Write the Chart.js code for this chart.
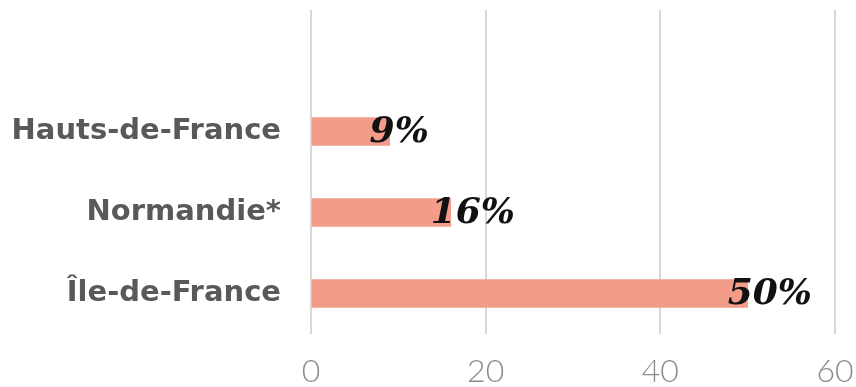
<!DOCTYPE html>
<html>
<head>
<meta charset="utf-8">
<script src="https://cdn.jsdelivr.net/npm/chart.js@4/dist/chart.umd.min.js"></script>
<style>
  html, body { margin: 0; padding: 0; background: #fff; }
  #wrap { width: 856px; height: 387px; }
</style>
</head>
<body>
<div id="wrap"><canvas id="chart"></canvas></div>
<script>
// Data (first slot is left empty, as in the original layout)
const regions = ['', 'Hauts-de-France', 'Normandie*', 'Île-de-France'];
const shares = [null, 9, 16, 50];
const xTicks = [0, 20, 40, 60];

const BAR_COLOR = '#f39c8a';

// value labels drawn next to the bar ends
const valueLabelPlugin = {
  id: 'valueLabels',
  afterDatasetsDraw(chart) {
    const { ctx } = chart;
    const meta = chart.getDatasetMeta(0);
    ctx.save();
    ctx.fillStyle = '#111';
    ctx.font = 'italic bold 36px "DejaVu Serif", serif';
    ctx.textAlign = 'left';
    ctx.textBaseline = 'middle';
    meta.data.forEach(function(bar, i) {
      if (shares[i] == null) return;
      ctx.fillText(shares[i] + '%', bar.x - 20, bar.y + 1);
    });
    ctx.restore();
  }
};

const ctx = document.getElementById('chart').getContext('2d');
new Chart(ctx, {
  type: 'bar',
  data: {
    labels: regions,
    datasets: [{
      data: shares,
      backgroundColor: BAR_COLOR,
      borderWidth: 0,
      barThickness: 28
    }]
  },
  options: {
    indexAxis: 'y',
    responsive: true,
    maintainAspectRatio: false,
    animation: false,
    layout: { padding: { top: 10, right: 21, left: 0, bottom: 0 } },
    plugins: {
      legend: { display: false },
      tooltip: { enabled: false }
    },
    scales: {
      x: {
        min: 0,
        max: 60,
        afterBuildTicks: function(scale) {
          scale.ticks = xTicks.map(v => ({ value: v }));
        },
        afterFit: function(scale) {
          scale.height = 53;
          scale.paddingLeft = 0;
          scale.paddingRight = 0;
        },
        grid: { color: '#d9d9d9', lineWidth: 2, drawTicks: false },
        border: { display: false },
        ticks: {
          padding: 18,
          color: '#8a8a8a',
          font: { family: 'Lato, "DejaVu Sans", sans-serif', size: 32, weight: 300 }
        }
      },
      y: {
        afterFit: function(scale) {
          scale.width = 311;
          scale.paddingTop = 0;
          scale.paddingBottom = 0;
        },
        grid: { display: false, drawTicks: false },
        border: { display: false },
        ticks: {
          padding: 30,
          color: '#595959',
          font: { family: '"DejaVu Sans", sans-serif', size: 29, weight: 'bold' }
        }
      }
    }
  },
  plugins: [valueLabelPlugin]
});
</script>
</body>
</html>
